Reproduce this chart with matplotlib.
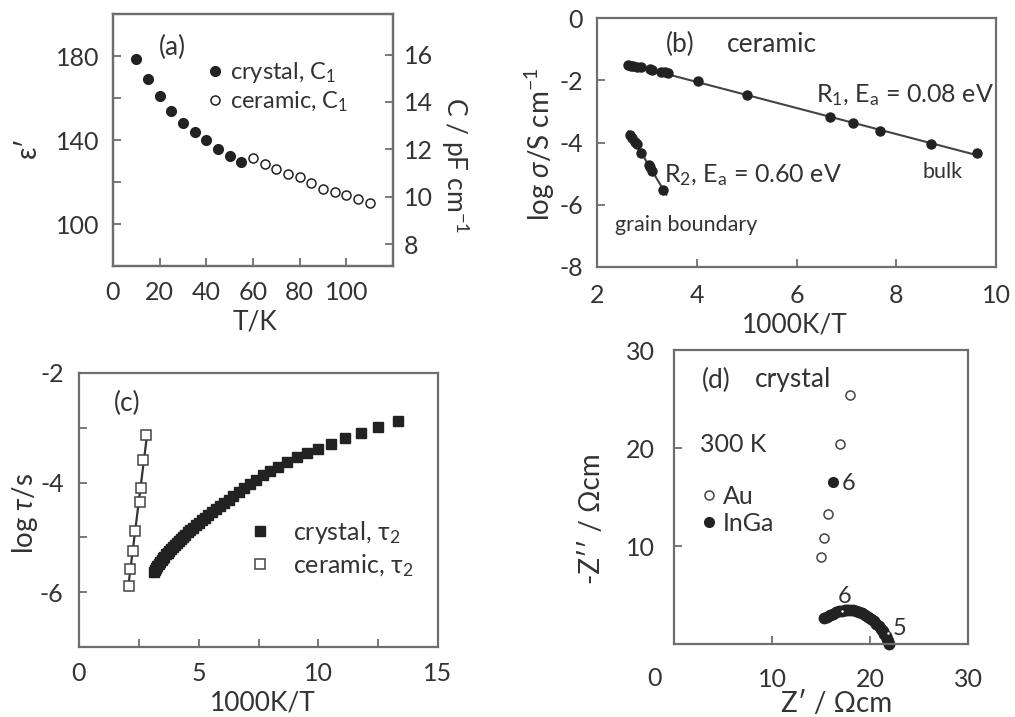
import matplotlib
matplotlib.use("Agg")
import matplotlib.pyplot as plt
import numpy as np

plt.rcParams['font.family'] = ['Lato', 'DejaVu Sans']
plt.rcParams['mathtext.fontset'] = 'custom'
plt.rcParams['mathtext.rm'] = 'Lato'
plt.rcParams['mathtext.it'] = 'Lato:italic'
plt.rcParams['axes.unicode_minus'] = False

TXT = '#333333'
MK = '#222222'
SP = '#6e6e6e'

# (a) permittivity vs T
a_T_crystal = [10, 15, 20, 25, 30, 35, 40, 45, 50, 55]
a_eps_crystal = [178.6, 168.9, 160.9, 154.0, 148.3, 143.7, 140.0, 135.7, 132.3, 129.5]
a_T_ceramic = [60, 65, 70, 75, 80, 85, 90, 95, 100, 105, 110]
a_eps_ceramic = [131.5, 128.8, 126.4, 124.0, 122.4, 119.5, 116.8, 115.2, 113.6, 112.0, 110.1]

# (b) ceramic conductivity
b_x_bulk = [2.63, 2.68, 2.73, 2.80, 2.88, 3.06, 3.10, 3.28, 3.36, 3.42, 4.02, 5.0, 6.67, 7.14, 7.68, 8.69, 9.61]
b_y_bulk = [-1.52, -1.53, -1.55, -1.57, -1.58, -1.65, -1.66, -1.73, -1.75, -1.76, -2.04, -2.47, -3.19, -3.38, -3.63, -4.05, -4.35]
b_x_gb = [2.66, 2.70, 2.76, 2.80, 2.88, 3.04, 3.06, 3.10, 3.33]
b_y_gb = [-3.76, -3.84, -3.98, -4.05, -4.33, -4.72, -4.78, -4.91, -5.53]

# (c) relaxation times
c_x_crystal = [3.125, 3.175, 3.226, 3.279, 3.333, 3.390, 3.448, 3.509, 3.571, 3.636,
               3.704, 3.774, 3.846, 3.922, 4.0, 4.082, 4.167, 4.255, 4.348, 4.444,
               4.545, 4.651, 4.762, 4.878, 5.0, 5.128, 5.263, 5.405, 5.556, 5.714,
               5.882, 6.061, 6.25, 6.452, 6.667, 6.897, 7.143, 7.407, 7.692, 8.0,
               8.333, 8.696, 9.091, 9.524, 10.0, 10.526, 11.111, 11.765, 12.5, 13.333]
c_y_crystal = [-5.63, -5.59, -5.56, -5.52, -5.49, -5.45, -5.42, -5.38, -5.35, -5.31,
               -5.28, -5.25, -5.21, -5.18, -5.14, -5.10, -5.07, -5.03, -4.99, -4.95,
               -4.91, -4.87, -4.82, -4.78, -4.73, -4.68, -4.64, -4.59, -4.53, -4.48,
               -4.42, -4.37, -4.31, -4.24, -4.17, -4.10, -4.03, -3.95, -3.87, -3.79,
               -3.71, -3.62, -3.54, -3.46, -3.38, -3.29, -3.19, -3.09, -2.99, -2.87]
c_x_ceramic = [2.07, 2.13, 2.24, 2.33, 2.54, 2.61, 2.68, 2.82]
c_y_ceramic = [-5.89, -5.58, -5.24, -4.88, -4.36, -4.10, -3.58, -3.14]

# (d) impedance, crystal at 300 K
d_zr_au = [17.96, 16.94, 15.75, 15.34, 15.0]
d_zi_au = [25.4, 20.4, 13.3, 10.8, 8.85]
d_zr_inga_pt = [16.26]
d_zi_inga_pt = [16.5]
d_zr_inga = [15.3, 15.6, 15.9, 16.2, 16.5, 16.8, 17.1, 17.4, 17.7, 18.0, 18.3, 18.6, 18.9,
             19.2, 19.5, 19.8, 20.1, 20.4, 20.65, 20.9, 21.1, 21.3, 21.45, 21.6, 21.75,
             21.85, 21.95]
d_zi_inga = [2.62, 2.8, 2.95, 3.1, 3.22, 3.33, 3.4, 3.45, 3.47, 3.46, 3.42, 3.35, 3.25,
             3.12, 2.96, 2.78, 2.57, 2.33, 2.08, 1.82, 1.56, 1.3, 1.04, 0.78, 0.52, 0.28, 0.05]
d_zr_decade = [17.1, 21.8]
d_zi_decade = [3.35, 1.1]

W, H = 1015, 717
fig = plt.figure(figsize=(W / 100, H / 100), dpi=100)

TICK = 18
LAB = 19


def box(l, t, r, b):
    return [l / W, 1 - b / H, (r - l) / W, (b - t) / H]


def style(ax, padx, pady):
    for s in ax.spines.values():
        s.set_color(SP)
        s.set_linewidth(1.6)
    ax.tick_params(direction='in', length=6, width=1.3, color=SP,
                   labelsize=TICK, labelcolor=TXT)
    ax.tick_params(axis='x', pad=padx)
    ax.tick_params(axis='y', pad=pady)


def figlabel(x, y, s, rot=0, size=LAB):
    fig.text(x / W, 1 - y / H, s, rotation=rot, ha='center', va='center',
             fontsize=size, color=TXT)


# ---- (a)
ax = fig.add_axes(box(113, 14, 393, 266))
ax.plot(a_T_crystal, a_eps_crystal, 'o', color=MK, ms=7, label='crystal, C$_1$')
ax.plot(a_T_ceramic, a_eps_ceramic, 'o', mfc='white', mec=MK, mew=1.1, ms=6.5,
        label='ceramic, C$_1$')
ax.set_xlim(0, 120)
ax.set_ylim(80, 200)
ax.set_xticks([0, 20, 40, 60, 80, 100])
ax.set_yticks([100, 120, 140, 160, 180])
ax.set_yticklabels(['100', '', '140', '', '180'])
style(ax, 11, 10)
ax2 = ax.twinx()
ax2.set_ylim(80 * 0.08854, 200 * 0.08854)
ax2.set_yticks([8, 10, 12, 14, 16])
style(ax2, 11, 8)
ax.legend(loc='center left', bbox_to_anchor=(0.33, 0.71), frameon=False,
          fontsize=17, handlelength=0.8, handletextpad=0.25, labelspacing=0.2,
          borderpad=0, borderaxespad=0, labelcolor=TXT)
ax.text(0.214, 0.869, '(a)', transform=ax.transAxes, ha='center', va='center',
        fontsize=19, color=TXT)
figlabel(28, 147, 'ɛ′', rot=90, size=20)
figlabel(455, 165, 'C / pF cm$^{-1}$', rot=270, size=19)
figlabel(255, 322, 'T/K')

# ---- (b)
ax = fig.add_axes(box(597, 18, 996, 267))
coef_bulk = np.polyfit(b_x_bulk, b_y_bulk, 1)
xb = np.array([min(b_x_bulk), max(b_x_bulk)])
ax.plot(xb, np.polyval(coef_bulk, xb), '-', color='#444444', lw=1.5)
coef_gb = np.polyfit(b_x_gb, b_y_gb, 1)
xg = np.array([min(b_x_gb) - 0.03, max(b_x_gb) + 0.06])
ax.plot(xg, np.polyval(coef_gb, xg), '-', color='#444444', lw=1.5)
ax.plot(b_x_bulk, b_y_bulk, 'o', color=MK, ms=6.5)
ax.plot(b_x_gb, b_y_gb, 'o', color=MK, ms=6.5)
ax.set_xlim(2, 10)
ax.set_ylim(-8, 0)
ax.set_xticks([2, 4, 6, 8, 10])
ax.set_yticks([-8, -6, -4, -2, 0])
style(ax, 12, 10)
kw = dict(transform=ax.transAxes, ha='center', va='center', color=TXT)
ax.text(0.208, 0.892, '(b)', fontsize=19, **kw)
ax.text(0.439, 0.892, 'ceramic', fontsize=19, **kw)
ax.text(0.772, 0.691, 'R$_1$, E$_\\mathrm{a}$ = 0.08 eV', fontsize=18, **kw)
ax.text(0.39, 0.369, 'R$_2$, E$_\\mathrm{a}$ = 0.60 eV', fontsize=18, **kw)
ax.text(0.867, 0.382, 'bulk', fontsize=15.5, **kw)
ax.text(0.223, 0.169, 'grain boundary', fontsize=15.5, **kw)
figlabel(540, 144, 'log $\\mathit{σ}$/S cm$^{-1}$', rot=90, size=20)
figlabel(795, 325, '1000K/T')

# ---- (c)
ax = fig.add_axes(box(79, 373, 438, 647))
coef_c = np.polyfit(c_x_ceramic, c_y_ceramic, 1)
xc = np.array([min(c_x_ceramic) - 0.03, max(c_x_ceramic)])
ax.plot(xc, np.polyval(coef_c, xc), '-', color='#333333', lw=1.6)
ax.plot(c_x_crystal, c_y_crystal, 's', color=MK, ms=7, label='crystal, τ$_2$')
ax.plot(c_x_ceramic, c_y_ceramic, 's', mfc='white', mec='#444444', mew=1.1, ms=6.5,
        label='ceramic, τ$_2$')
ax.set_xlim(0, 15)
ax.set_ylim(-7, -2)
ax.set_xticks([0, 2.5, 5, 7.5, 10, 12.5, 15])
ax.set_xticklabels(['0', '', '5', '', '10', '', '15'])
ax.set_yticks([-6, -5, -4, -3, -2])
ax.set_yticklabels(['-6', '', '-4', '', '-2'])
style(ax, 11, 11)
ax.legend(loc='center left', bbox_to_anchor=(0.47, 0.358), frameon=False,
          fontsize=18, handlelength=1.0, handletextpad=0.8, labelspacing=0.25,
          borderpad=0, borderaxespad=0, labelcolor=TXT)
ax.text(0.134, 0.89, '(c)', transform=ax.transAxes, ha='center', va='center',
        fontsize=19, color=TXT)
figlabel(25, 513, 'log $\\mathit{τ}$/s', rot=90, size=20)
figlabel(263, 703, '1000K/T')

# ---- (d)
ax = fig.add_axes(box(674, 350, 968, 644))
ax.plot(d_zr_au, d_zi_au, 'o', mfc='white', mec='#444444', mew=1.1, ms=6.5, label='Au')
ax.plot(d_zr_inga_pt, d_zi_inga_pt, 'o', color=MK, ms=7, label='InGa')
ax.plot(d_zr_inga, d_zi_inga, 'o', color=MK, ms=7.5, clip_on=False)
ax.plot(d_zr_decade, d_zi_decade, 'o', color='white', ms=1.8, mew=0, clip_on=False)
ax.set_xlim(0, 30)
ax.set_ylim(0, 30)
ax.set_xticks([0, 10, 20, 30])
ax.set_xticklabels(['', '10', '20', '30'])
ax.set_yticks([10, 20, 30])
style(ax, 17, 14)
ax.text(-2.0, -2.35, '0', ha='center', va='top', fontsize=TICK, color=TXT)
ax.legend(loc='center left', bbox_to_anchor=(0.095, 0.456), frameon=False,
          fontsize=18, handlelength=0.6, handletextpad=0.25, labelspacing=0.15,
          borderpad=0, borderaxespad=0, labelcolor=TXT)
kw = dict(transform=ax.transAxes, ha='center', va='center', color=TXT)
ax.text(0.145, 0.898, '(d)', fontsize=19, **kw)
ax.text(0.405, 0.898, 'crystal', fontsize=19, **kw)
ax.text(0.2, 0.68, '300 K', fontsize=18, **kw)
ax.text(17.15, 16.4, '6', ha='left', va='center', fontsize=17, color=TXT)
ax.text(17.45, 4.8, '6', ha='center', va='center', fontsize=17, color=TXT)
ax.text(22.99, 1.6, '5', ha='center', va='center', fontsize=17, color=TXT)
figlabel(592, 519, '-Z′′ / Ωcm', rot=90, size=20)
figlabel(837, 704, 'Z′ / Ωcm', size=20)

plt.savefig('out.png', dpi=100)
plt.close()
